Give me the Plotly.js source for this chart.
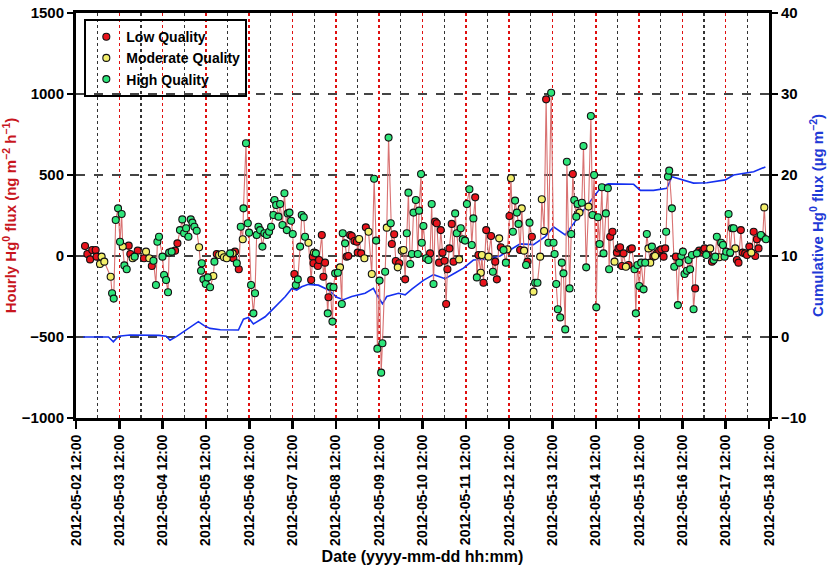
<!DOCTYPE html>
<html>
<head>
<meta charset="utf-8">
<script src="https://cdn.plot.ly/plotly-3.0.1.min.js"></script>
<style>
  html, body { margin: 0; padding: 0; background: #fff; }
  #chart { width: 828px; height: 571px; }
</style>
</head>
<body>
<div id="chart"></div>
<script>
// hours after 2012-05-02 12:00 for each hourly flux point
const fluxHours = [
    5.0, 6.3, 7.8, 9.0, 10.9, 11.4, 13.3, 14.2, 15.7, 19.2,
    20.0, 20.9, 22.0, 23.3, 24.4, 25.3, 25.9, 26.8, 28.1, 29.2,
    30.1, 31.4, 32.5, 34.2, 37.7, 38.8, 40.6, 42.0, 42.9, 44.3,
    45.1, 46.0, 47.9, 48.8, 49.9, 51.0, 51.6, 53.0, 54.9, 56.2,
    57.6, 58.9, 59.9, 61.0, 62.3, 63.6, 64.5, 65.6, 66.9, 68.2,
    69.3, 69.7, 70.6, 71.9, 73.0, 74.3, 76.1, 76.7, 78.0, 79.3,
    80.8, 82.0, 83.5, 85.4, 86.8, 87.2, 88.1, 89.1, 90.2, 91.3,
    92.4, 92.8, 94.2, 95.2, 95.9, 97.0, 98.3, 99.2, 100.1, 101.1,
    102.0, 103.3, 104.4, 105.7, 107.0, 108.1, 109.4, 110.0, 110.9, 112.2,
    113.1, 114.4, 115.5, 116.8, 117.3, 118.3, 119.2, 120.1, 121.0, 121.8,
    122.9, 124.2, 125.1, 126.2, 126.9, 128.8, 130.3, 131.2, 131.6, 131.9,
    132.9, 134.0, 134.7, 136.2, 137.1, 138.0, 139.5, 139.9, 140.8, 142.1,
    142.7, 143.6, 145.1, 146.3, 147.3, 147.8, 149.1, 150.0, 150.9, 151.9,
    152.8, 154.3, 155.6, 156.1, 156.9, 158.0, 159.8, 160.6, 162.1, 163.9,
    165.2, 166.3, 167.0, 168.2, 169.1, 169.8, 171.3, 172.2, 173.2, 174.4,
    175.0, 176.3, 177.2, 178.3, 179.1, 180.5, 181.5, 182.4, 183.3, 184.2,
    185.2, 186.1, 187.0, 188.3, 189.4, 190.1, 191.2, 191.6, 192.5, 194.0,
    195.3, 196.2, 197.1, 198.1, 199.0, 199.9, 201.2, 202.1, 203.1, 204.2,
    205.1, 205.8, 206.9, 208.2, 209.2, 210.1, 211.0, 212.3, 213.2, 214.3,
    215.6, 216.6, 218.0, 219.3, 220.2, 221.2, 222.1, 223.0, 224.3, 224.9,
    225.8, 227.3, 228.6, 230.0, 231.0, 232.3, 233.2, 234.5, 235.4, 236.9,
    238.2, 239.1, 240.2, 241.0, 242.1, 243.3, 244.3, 245.2, 246.1, 247.0,
    248.3, 249.4, 250.2, 251.3, 252.6, 253.5, 254.4, 255.7, 257.2, 258.1,
    259.4, 260.5, 261.8, 263.3, 264.6, 265.2, 266.1, 267.0, 268.3, 269.2,
    270.1, 271.1, 272.0, 273.5, 274.4, 275.3, 276.1, 277.2, 277.9, 279.0,
    280.3, 281.2, 282.7, 284.0, 285.3, 286.2, 287.1, 288.3, 289.2, 290.1,
    291.4, 292.3, 293.6, 294.7, 295.4, 296.0, 297.3, 298.4, 299.7, 300.6,
    301.5, 302.5, 303.4, 304.7, 306.2, 307.1, 308.0, 309.5, 310.2, 311.1,
    312.1, 313.2, 314.5, 315.4, 316.3, 317.2, 318.2, 319.1, 320.0, 320.9,
    321.9, 323.2, 324.3, 325.6, 326.5, 327.0, 328.0, 328.7, 330.2, 331.5,
    332.4, 333.5, 334.3, 335.4, 336.3, 337.2, 338.5, 339.4, 340.3, 341.3,
    342.2, 343.1, 344.0, 345.3, 346.4, 347.7, 348.3, 349.2, 350.1, 351.4,
    352.4, 353.3, 354.2, 355.1, 356.4, 357.5, 358.5, 359.4, 360.3, 361.6,
    362.5, 363.5, 364.4, 365.3, 366.2, 367.1, 368.4, 369.4, 370.8, 371.8,
    373.1, 374.2, 375.5, 376.4, 377.3, 378.2, 379.5, 380.5, 381.4, 382.3
];

// hourly Hg0 flux, ng m-2 h-1
const fluxValues = [
    62, 12, -21, 37, 37, -4, -49, -4, -35, -128,
    -230, -263, 222, 294, 88, 259, 58, -58, -82, 64,
    12, -14, -4, 33, -14, 27, -14, -62, -29, -179,
    88, 119, -4, -117, -148, -224, 21, 27, 33, 78,
    160, 226, 140, 171, 119, 226, 206, 181, 156, 54,
    -91, -45, -144, -173, -132, -193, -123, -35, 12, 6,
    12, -8, -14, 16, 16, -14, 27, -45, -82, 181,
    103, 294, 696, 202, 144, -179, -354, -230, 130, 181,
    160, 58, 140, 130, 150, 181, 253, 346, 315, 243,
    321, 191, 387, 160, 263, 268, 218, 136, -111, -179,
    -144, 58, 253, 239, 119, 82, -148, -4, -45, 21,
    16, -62, -25, 130, -128, -41, -354, -255, -189, -405,
    -193, -107, -103, -70, -296, 140, 78, -4, 0, 130,
    123, 93, 88, 21, 105, 16, -14, 177, 150, -111,
    477, 95, -572, -152, -720, -539, -97, 175, 731, 202,
    74, 134, -31, -70, -45, 33, 37, -144, 140, 391,
    -49, 12, 268, 346, 12, 280, 506, 82, 185, -14,
    -25, 16, 321, -173, 212, 202, -41, 160, 21, -29,
    -296, -82, 47, 198, -35, 263, 140, -21, 171, 103,
    95, 321, 412, 68, 232, 362, -132, 6, -103, 6,
    -165, 160, -4, 123, -97, -35, -144, 109, 54, 37,
    -41, 41, 247, 480, 150, 342, 268, 198, 37, 294,
    33, -56, -35, 206, 119, -220, -165, -165, -4, 350,
    154, 967, 82, 1008, 82, 12, -173, -329, -379, -41,
    -107, -453, 582, -200, 136, 506, 346, 243, 321, 268,
    329, 679, -70, 305, 864, 253, 500, -317, 239, 74,
    424, 16, 263, 418, -82, 119, 150, -35, 21, 47,
    54, -62, 16, -66, -56, 41, 47, -82, -354, -56,
    -185, -41, -206, -41, 136, 47, -41, 58, -4, 0,
    16, 33, 41, -4, 47, 150, 490, 527, 294, -66,
    -4, -303, -41, 0, 27, -111, -91, -25, -82, 6,
    -329, -200, 16, 33, 21, 37, 47, 6, 16, 47,
    -35, -25, -4, 119, -8, 82, 68, -4, 27, 259,
    21, 171, 171, 47, -25, -41, 160, 21, 16, 6,
    58, 21, 150, 0, 103, 47, 130, 119, 300, 103
];

// R = low, Y = moderate, G = high quality
const fluxQuality = (
    'RRRRRRYYYY' + 'GGGGGGYGGR' + 'RYGRRYYRGG' + 'GGGGGGGGRR' + 'GGGGGGGGGY' +
    'GGGGGGYGRY' + 'YYYGYRRGRG' + 'YGGGGGGGGG' + 'GGGGGGGGGG' + 'GGGGGGGGRG' +
    'GGGGGYRRRY' + 'GRRRRRGRGG' + 'GGGYGGGRRR' + 'RRRRYRYRYY' + 'GGGGGGGYGG' +
    'RRRYRYYRGG' + 'GGGGGGGGGG' + 'GRGGRRRRRR' + 'RRRRRGGYGG' + 'GGGGGRGRYY' +
    'RRYRGRRYRG' + 'GYRYGGGGRY' + 'YGRGRYGGYY' + 'YRGGGGGGGG' + 'GGGGGRGGGY' +
    'GGGYGGGGGG' + 'GGGGGRRYRR' + 'RRRYRRRGGG' + 'GGGGGYYGRY' + 'RRRRRGGGGG' +
    'RGGGGGGGGG' + 'GRGRRRRGRY' + 'RGGGYGGGGG' + 'GGGYRRRRRR' + 'RYRRRRGRYG'
).split('');

// cumulative Hg0 flux, ug m-2
const cumHours = [
    4, 12, 18, 20.7, 23.5, 30, 40, 46, 50, 52.1,
    56, 59.5, 64, 67.8, 71, 74.3, 80, 90, 92.8, 95.5,
    98.3, 101, 104.8, 108, 112.2, 116, 119.6, 122.3, 125, 128.8,
    134.3, 139.9, 144.5, 148.2, 152.8, 160.2, 164.8, 166.7, 169.8, 172.2,
    178.7, 182.4, 186.1, 192.5, 198.1, 204.5, 210, 214.7, 220.2, 227.6,
    235, 238.7, 246.1, 253.5, 260, 264.6, 268.3, 271.1, 275.7, 281.2,
    286.8, 291.4, 295, 309, 312.7, 320, 327.4, 330.2, 336.7, 342.2,
    349.6, 359.8, 364.4, 375.5, 382
];
const cumValues = [
    0, 0.05, 0, -0.6, 0.1, 0.25, 0.25, 0.2, 0.1, -0.4,
    0.1, 0.66, 1.3, 1.9, 1.4, 1.06, 0.9, 0.86, 2.2, 2.4,
    1.6, 2.0, 2.5, 3.2, 4.2, 5.0, 6.0, 5.8, 6.2, 6.5,
    6.4, 5.8, 4.9, 4.6, 5.0, 5.4, 6.0, 5.2, 4.1, 5.0,
    5.4, 5.2, 5.9, 7.0, 7.7, 7.2, 7.9, 8.5, 9.5, 9.6,
    10.0, 10.5, 11.5, 11.4, 12.4, 13.6, 13.0, 12.6, 14.0, 15.7,
    17.3, 18.6, 18.9, 18.85, 18.1, 18.1, 18.35, 19.8, 19.4, 19.0,
    19.05, 19.4, 20.0, 20.4, 21.0
];

const QUALITY = [
    { code: 'R', name: 'Low Quality',      color: '#e8141c' },
    { code: 'Y', name: 'Moderate Quality', color: '#f2ee6a' },
    { code: 'G', name: 'High Quality',     color: '#2ee57a' }
];

const START = Date.UTC(2012, 4, 2, 12);
const DAY = 86400000;
const toMs = h => START + h * 3600000;
const X_RANGE = ['2012-05-02 12:00', '2012-05-18 12:00'];
const FONT = 'Liberation Sans, Arial, sans-serif';

const fluxX = fluxHours.map(toMs);

const traces = [];

// cumulative flux on the base (right) axis so the flux points draw above it
traces.push({
    type: 'scatter', mode: 'lines',
    x: cumHours.map(toMs), y: cumValues,
    line: { color: '#1530f0', width: 1.6 },
    xaxis: 'x', yaxis: 'y',
    showlegend: false, hoverinfo: 'skip'
});

traces.push({
    type: 'scatter', mode: 'lines',
    x: fluxX, y: fluxValues,
    line: { color: '#d97272', width: 1.1 },
    xaxis: 'x', yaxis: 'y2',
    showlegend: false, hoverinfo: 'skip'
});

for (const q of QUALITY) {
    const xs = [], ys = [];
    fluxQuality.forEach((c, i) => {
        if (c === q.code) { xs.push(fluxX[i]); ys.push(fluxValues[i]); }
    });
    traces.push({
        type: 'scatter', mode: 'markers',
        x: xs, y: ys, name: q.name,
        marker: { color: q.color, size: 7, line: { color: '#111', width: 1.1 } },
        xaxis: 'x', yaxis: 'y2'
    });
}

const tickFont = { family: FONT, size: 15, color: '#000', weight: 700 };

const layout = {
    width: 828, height: 571,
    margin: { l: 76, r: 59, t: 13, b: 153 },
    paper_bgcolor: '#fff', plot_bgcolor: '#fff',
    font: { family: FONT, color: '#000' },
    showlegend: true,
    legend: {
        x: 0.012, y: 0.985, xanchor: 'left', yanchor: 'top',
        bgcolor: 'rgba(0,0,0,0)', bordercolor: '#000', borderwidth: 2,
        font: { family: FONT, size: 14, color: '#000', weight: 700 },
        itemwidth: 30, itemclick: false
    },
    xaxis: {
        type: 'date', range: X_RANGE,
        tick0: '2012-05-02 12:00', dtick: DAY,
        tickformat: '%Y-%m-%d %H:%M', tickangle: -90,
        tickfont: { family: FONT, size: 14, color: '#000', weight: 700 },
        ticks: 'outside', ticklen: 8, tickwidth: 2.5, tickcolor: '#000',
        showline: true, linewidth: 3, linecolor: '#000', mirror: true,
        showgrid: true, gridcolor: '#e01010', griddash: 'dot', gridwidth: 1.6,
        minor: {
            tick0: '2012-05-02 00:00', dtick: DAY / 2,
            showgrid: true, gridcolor: '#333', griddash: 'dot', gridwidth: 1.1,
            ticks: ''
        },
        zeroline: false,
        title: {
            text: 'Date (yyyy-mm-dd hh:mm)', standoff: 6,
            font: { family: FONT, size: 16, color: '#000', weight: 700 }
        }
    },
    xaxis2: {
        type: 'date', range: X_RANGE, overlaying: 'x', anchor: 'y',
        tick0: '2012-05-02 12:00', dtick: DAY,
        ticks: 'inside', ticklen: 8, tickwidth: 2.5, tickcolor: '#000',
        showticklabels: false, showgrid: false, zeroline: false, showline: false
    },
    yaxis: {
        range: [-10, 40], dtick: 10, side: 'right',
        tickfont: tickFont,
        ticks: 'outside', ticklen: 6, tickwidth: 2.5, tickcolor: '#000',
        showline: true, linewidth: 3, linecolor: '#000',
        showgrid: true, gridcolor: '#444', griddash: 'dash', gridwidth: 1.3,
        zeroline: false,
        title: {
            text: 'Cumulative Hg<sup>0</sup> flux (µg m<sup>−2</sup>)', standoff: 8,
            font: { family: FONT, size: 15, color: '#1f3ad6', weight: 700 }
        }
    },
    yaxis2: {
        range: [-1000, 1500], dtick: 500, overlaying: 'y', side: 'left',
        tickfont: tickFont,
        ticks: 'outside', ticklen: 6, tickwidth: 2.5, tickcolor: '#000',
        showline: true, linewidth: 3, linecolor: '#000',
        showgrid: false, zeroline: false,
        title: {
            text: 'Hourly Hg<sup>0</sup> flux (ng m<sup>−2</sup> h<sup>−1</sup>)', standoff: 5,
            font: { family: FONT, size: 15, color: '#c8161e', weight: 700 }
        }
    }
};

Plotly.newPlot('chart', traces, layout, { displayModeBar: false, staticPlot: true });
</script>
</body>
</html>
